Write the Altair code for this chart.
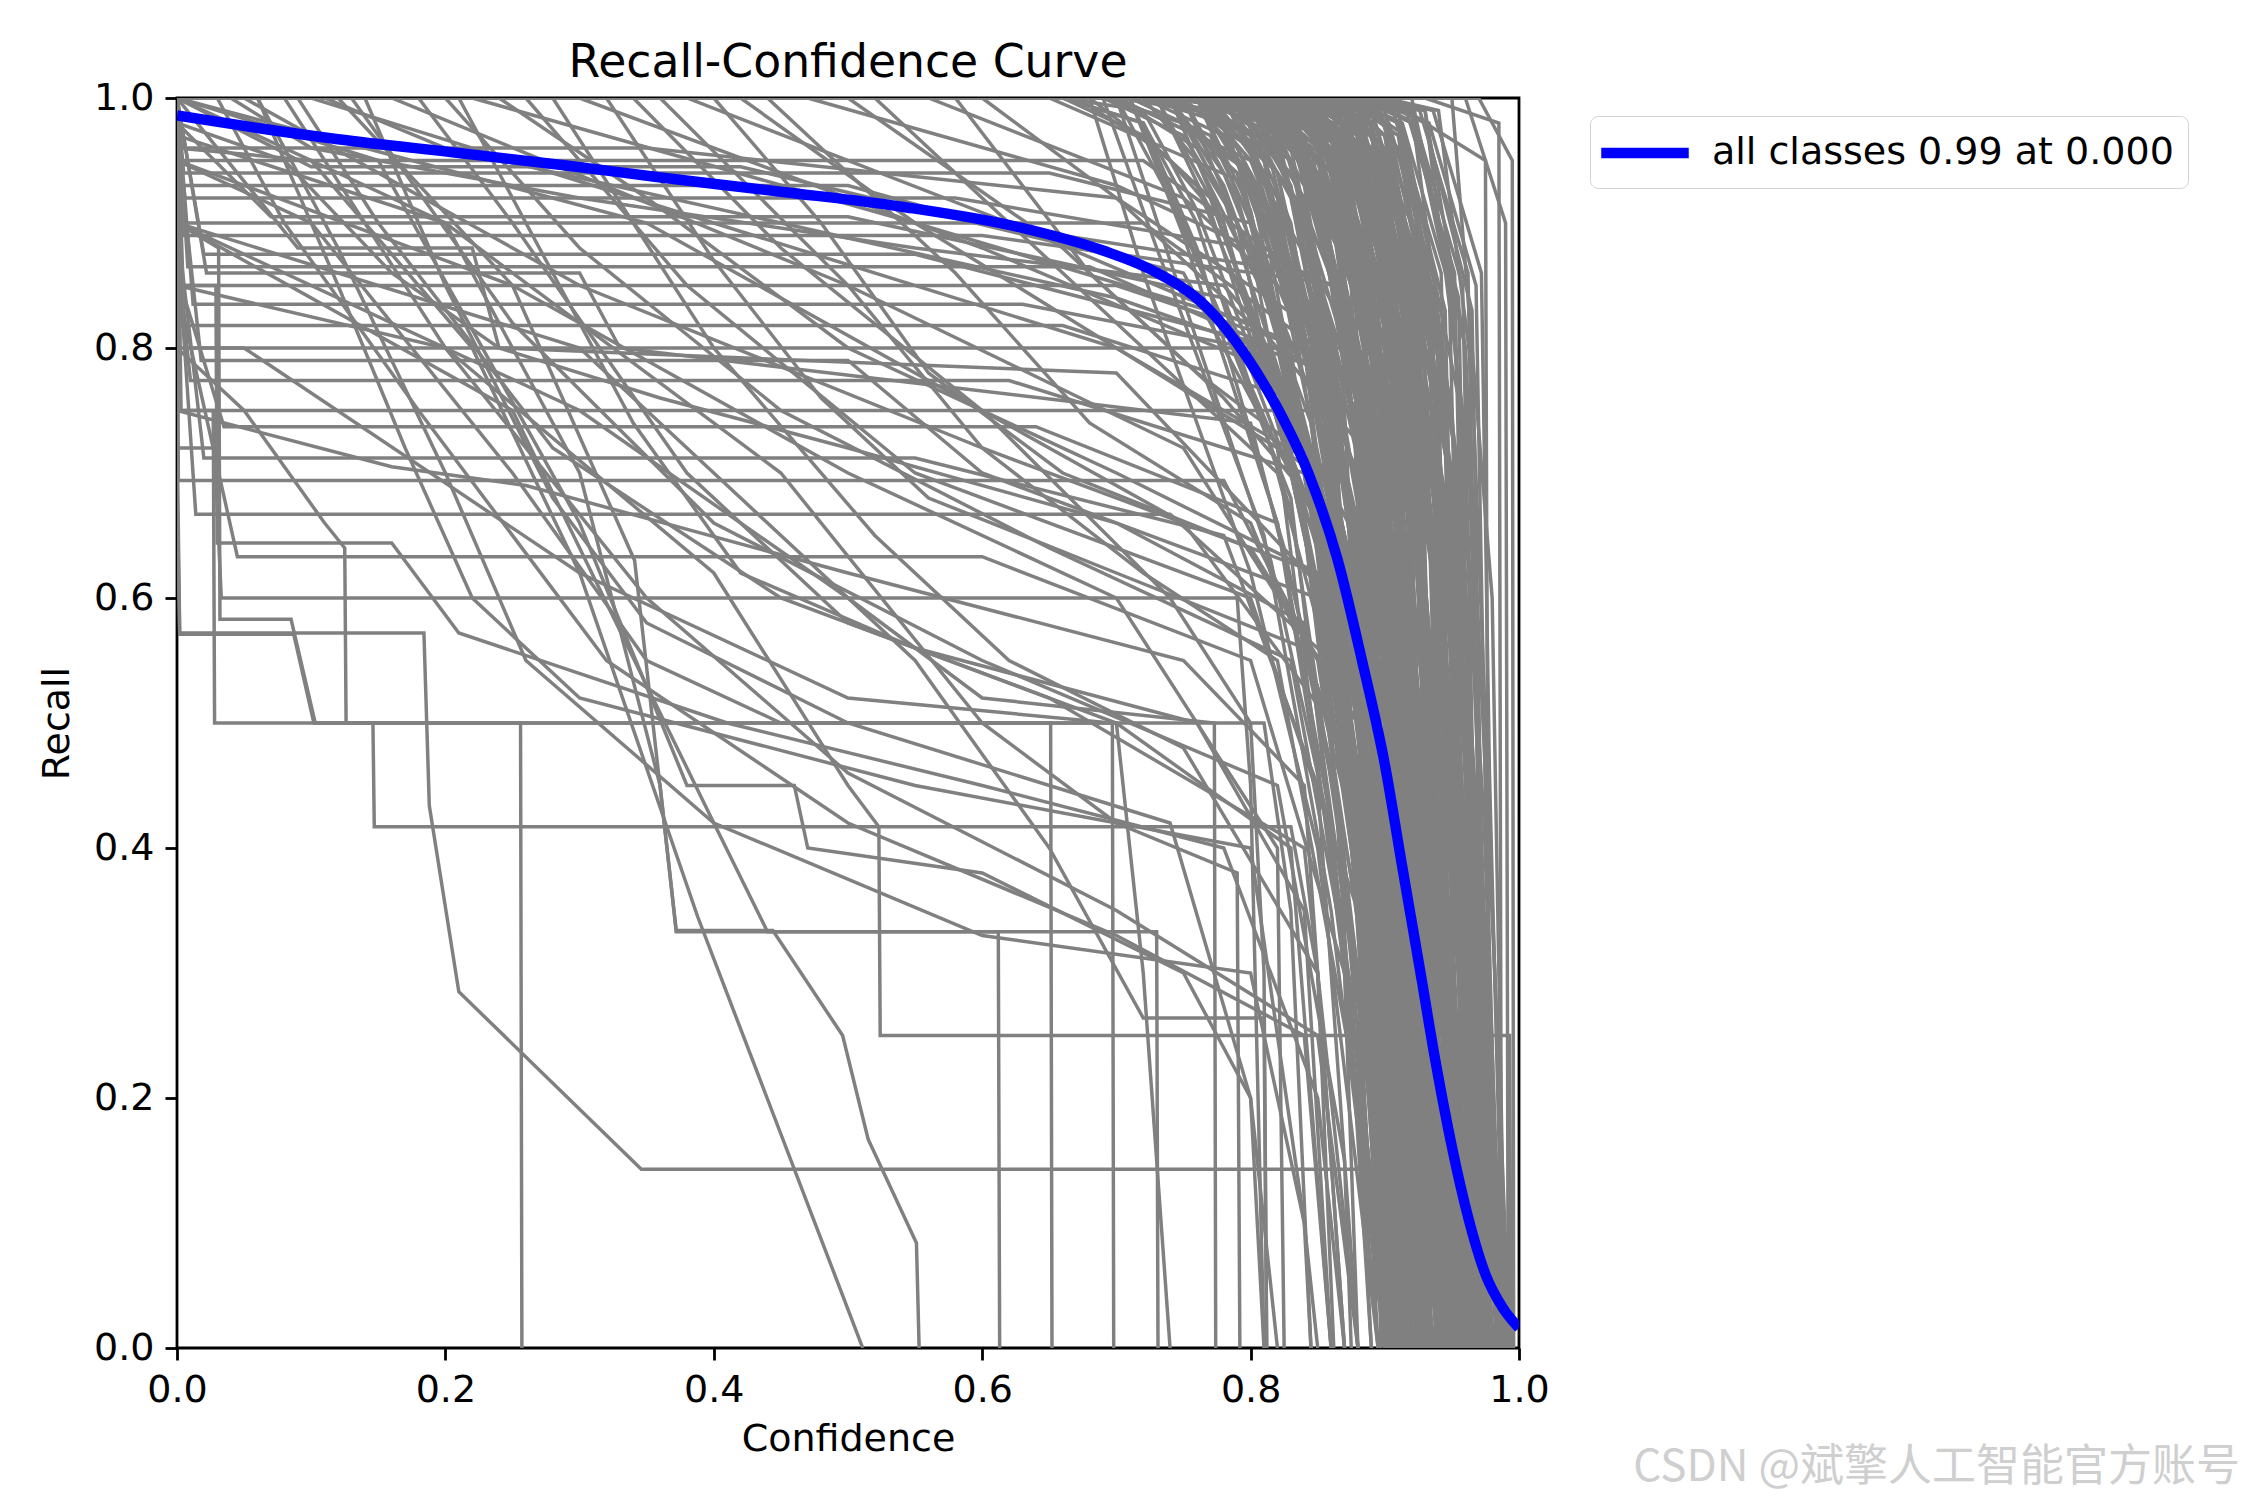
import altair as alt
import pandas as pd

FONT = "DejaVu Sans"
TITLE = "Recall-Confidence Curve"
LEGEND_LABEL = "all classes 0.99 at 0.000"
WATERMARK = "CSDN @斌擎人工智能官方账号"
TICKS = [0.0, 0.2, 0.4, 0.6, 0.8, 1.0]

# ---- mean curve over all classes (blue) ----
all_conf = [0.0, 0.06, 0.12, 0.21, 0.29, 0.356, 0.45, 0.54, 0.63, 0.69, 0.727, 0.767, 0.797,
            0.821, 0.843, 0.865, 0.883, 0.9, 0.913, 0.926, 0.938, 0.95, 0.962, 0.975, 0.988, 1.0]
all_recall = [0.986, 0.976, 0.967, 0.956, 0.946, 0.937, 0.925, 0.913, 0.896, 0.878, 0.862, 0.833, 0.793,
              0.75, 0.70, 0.63, 0.55, 0.467, 0.385, 0.304, 0.228, 0.161, 0.105, 0.059, 0.032, 0.016]

# ---- per-class curves (grey), points are (confidence, recall) ----
low_left_classes = [
    [(0, 0.74), (0.002, 0.572), (0.184, 0.572), (0.188, 0.434), (0.21, 0.285), (0.346, 0.143), (0.895, 0.143), (0.897, 0)],
    [(0, 0.69), (0.002, 0.571), (0.087, 0.571), (0.102, 0.5), (0.256, 0.5), (0.257, 0)],
    [(0, 0.75), (0.027, 0.75), (0.028, 0.5), (0.146, 0.5), (0.147, 0.417), (0.83, 0.417), (0.85, 0.3), (0.862, 0)],
    [(0, 0.9), (0.031, 0.88), (0.032, 0.583), (0.085, 0.583), (0.103, 0.5), (0.81, 0.5), (0.83, 0.35), (0.845, 0)],
    [(0, 1.0), (0.12, 1.0), (0.25, 0.85), (0.341, 0.63), (0.372, 0.334), (0.444, 0.334), (0.496, 0.25), (0.515, 0.167), (0.551, 0.084), (0.553, 0)],
    [(0, 0.96), (0.1, 0.95), (0.22, 0.8), (0.3, 0.62), (0.388, 0.345), (0.511, 0)],
    [(0, 0.85), (0.2, 0.8), (0.4, 0.62), (0.5, 0.45), (0.523, 0.417), (0.524, 0.25), (0.993, 0.25), (0.994, 0)],
    [(0, 0.97), (0.2, 0.9), (0.3, 0.7), (0.36, 0.45), (0.372, 0.333), (0.612, 0.333), (0.613, 0)],
    [(0, 0.9), (0.25, 0.75), (0.40, 0.42), (0.44, 0.333), (0.73, 0.333), (0.731, 0)],
    [(0, 0.72), (0.028, 0.72), (0.033, 0.6), (0.79, 0.6), (0.80, 0.45), (0.81, 0)],
    [(0, 0.95), (0.1, 0.9), (0.25, 0.7), (0.35, 0.55), (0.45, 0.5), (0.651, 0.5), (0.652, 0)],
    [(0, 0.8), (0.05, 0.8), (0.3, 0.62), (0.5, 0.52), (0.697, 0.5), (0.698, 0)],
    [(0, 0.75), (0.16, 0.705), (0.26, 0.69), (0.5, 0.62), (0.75, 0.55), (0.84, 0.45), (0.87, 0)],
    [(0, 0.85), (0.029, 0.85), (0.03, 0.644), (0.16, 0.644), (0.21, 0.572), (0.41, 0.5), (0.6, 0.45), (0.78, 0.4), (0.85, 0.2), (0.87, 0)],
    [(0, 0.8), (0.05, 0.75), (0.11, 0.66), (0.125, 0.64), (0.126, 0.5), (0.7, 0.5), (0.72, 0.3), (0.74, 0)],
    [(0, 1.0), (0.15, 0.95), (0.3, 0.66), (0.38, 0.45), (0.46, 0.45), (0.47, 0.4), (0.6, 0.38), (0.75, 0.3), (0.8, 0.2), (0.82, 0)],
    [(0, 0.9), (0.3, 0.8), (0.55, 0.55), (0.65, 0.4), (0.72, 0.264), (0.81, 0.264), (0.812, 0)],
    [(0, 0.9), (0.3, 0.75), (0.5, 0.6), (0.6, 0.52), (0.773, 0.5), (0.774, 0)],
    [(0, 1.0), (0.2, 0.9), (0.45, 0.7), (0.6, 0.5), (0.7, 0.42), (0.79, 0.38), (0.792, 0)],
    [(0, 1.0), (0.35, 0.9), (0.6, 0.75), (0.74, 0.6), (0.8, 0.5), (0.81, 0.3), (0.812, 0)],
    [(0, 0.95), (0.25, 0.85), (0.5, 0.7), (0.7, 0.6), (0.82, 0.4), (0.825, 0)],
]

plateau_classes = [
    [(0, 1), (0.003, 0.95), (0.72, 0.95), (0.85, 0.85), (0.9, 0.5), (0.93, 0)],
    [(0, 1), (0.005, 0.94), (0.65, 0.94), (0.8, 0.9), (0.88, 0.7), (0.91, 0.3), (0.925, 0)],
    [(0, 1), (0.004, 0.93), (0.5, 0.93), (0.6, 0.9), (0.84, 0.86), (0.9, 0.6), (0.94, 0)],
    [(0, 0.97), (0.006, 0.92), (0.58, 0.92), (0.8, 0.88), (0.89, 0.55), (0.915, 0)],
    [(0, 1), (0.004, 0.9), (0.72, 0.9), (0.85, 0.8), (0.9, 0.4), (0.92, 0)],
    [(0, 0.95), (0.005, 0.89), (0.6, 0.89), (0.87, 0.85), (0.93, 0.4), (0.955, 0)],
    [(0, 1), (0.02, 0.875), (0.55, 0.875), (0.82, 0.8), (0.88, 0.5), (0.905, 0)],
    [(0, 1), (0.008, 0.865), (0.68, 0.865), (0.86, 0.78), (0.92, 0.3), (0.94, 0)],
    [(0, 0.92), (0.003, 0.85), (0.7, 0.85), (0.84, 0.8), (0.9, 0.45), (0.93, 0)],
    [(0, 1), (0.012, 0.835), (0.63, 0.835), (0.8, 0.8), (0.87, 0.6), (0.9, 0)],
    [(0, 0.9), (0.002, 0.818), (0.66, 0.818), (0.83, 0.76), (0.88, 0.45), (0.9, 0)],
    [(0, 1), (0.006, 0.8), (0.88, 0.8), (0.92, 0.5), (0.945, 0)],
    [(0, 0.88), (0.01, 0.774), (0.62, 0.774), (0.84, 0.7), (0.9, 0.35), (0.92, 0)],
    [(0, 1), (0.003, 0.75), (0.85, 0.75), (0.9, 0.5), (0.93, 0)],
    [(0, 0.86), (0.035, 0.737), (0.64, 0.737), (0.82, 0.66), (0.88, 0.3), (0.895, 0)],
    [(0, 0.9), (0.02, 0.712), (0.55, 0.712), (0.78, 0.65), (0.85, 0.45), (0.88, 0)],
    [(0, 1), (0.001, 0.694), (0.78, 0.694), (0.85, 0.55), (0.9, 0.2), (0.91, 0)],
    [(0, 0.89), (0.014, 0.667), (0.74, 0.667), (0.86, 0.55), (0.9, 0.25), (0.92, 0)],
    [(0, 0.85), (0.045, 0.633), (0.6, 0.633), (0.8, 0.55), (0.87, 0.3), (0.88, 0)],
    [(0, 1), (0.006, 0.96), (0.35, 0.96), (0.7, 0.92), (0.87, 0.8), (0.93, 0.3), (0.96, 0)],
    [(0, 0.98), (0.07, 0.905), (0.5, 0.905), (0.78, 0.84), (0.9, 0.5), (0.95, 0)],
    [(0, 1), (0.1, 0.945), (0.42, 0.945), (0.75, 0.86), (0.88, 0.6), (0.93, 0.1), (0.94, 0)],
    [(0, 1), (0.022, 0.86), (0.3, 0.86), (0.33, 0.8), (0.8, 0.74), (0.88, 0.4), (0.9, 0)],
    [(0, 0.97), (0.018, 0.79), (0.5, 0.79), (0.6, 0.7), (0.85, 0.6), (0.9, 0.2), (0.91, 0)],
    [(0, 1), (0.09, 0.88), (0.22, 0.88), (0.24, 0.8), (0.7, 0.78), (0.86, 0.6), (0.9, 0.1), (0.905, 0)],
]

sloped_classes = [
    [(0, 1), (0.05, 1), (0.3, 0.85), (0.6, 0.72), (0.85, 0.62), (0.9, 0.3), (0.92, 0)],
    [(0, 1), (0.08, 1), (0.2, 0.8), (0.35, 0.6), (0.5, 0.46), (0.7, 0.35), (0.85, 0.25), (0.88, 0)],
    [(0, 1), (0.1, 1), (0.4, 0.9), (0.7, 0.8), (0.86, 0.7), (0.92, 0.3), (0.94, 0)],
    [(0, 1), (0.13, 1), (0.25, 0.82), (0.4, 0.66), (0.6, 0.55), (0.82, 0.45), (0.87, 0.15), (0.875, 0)],
    [(0, 1), (0.16, 1), (0.5, 0.85), (0.75, 0.72), (0.88, 0.5), (0.91, 0)],
    [(0, 1), (0.2, 1), (0.3, 0.88), (0.45, 0.75), (0.65, 0.64), (0.83, 0.55), (0.89, 0.2), (0.9, 0)],
    [(0, 1), (0.22, 1), (0.55, 0.9), (0.8, 0.82), (0.9, 0.6), (0.95, 0)],
    [(0, 1), (0.26, 1), (0.38, 0.85), (0.55, 0.7), (0.8, 0.6), (0.88, 0.35), (0.9, 0)],
    [(0, 1), (0.3, 1), (0.6, 0.88), (0.82, 0.78), (0.9, 0.5), (0.93, 0)],
    [(0, 1), (0.34, 1), (0.45, 0.88), (0.6, 0.75), (0.75, 0.66), (0.86, 0.5), (0.89, 0)],
    [(0, 1), (0.38, 1), (0.62, 0.9), (0.84, 0.8), (0.92, 0.4), (0.95, 0)],
    [(0, 1), (0.42, 1), (0.55, 0.9), (0.7, 0.8), (0.85, 0.7), (0.9, 0.3), (0.91, 0)],
    [(0, 1), (0.47, 1), (0.7, 0.93), (0.86, 0.85), (0.93, 0.5), (0.96, 0)],
    [(0, 1), (0.52, 1), (0.62, 0.9), (0.72, 0.8), (0.82, 0.7), (0.87, 0.5), (0.9, 0)],
    [(0, 1), (0.56, 1), (0.75, 0.92), (0.87, 0.8), (0.93, 0.3), (0.95, 0)],
    [(0, 1), (0.6, 1), (0.7, 0.92), (0.8, 0.82), (0.88, 0.6), (0.92, 0)],
    [(0, 1), (0.65, 1), (0.8, 0.93), (0.9, 0.7), (0.95, 0)],
    [(0, 1), (0.7, 1), (0.8, 0.95), (0.88, 0.8), (0.93, 0.3), (0.95, 0)],
    [(0, 1), (0.03, 1), (0.08, 0.9), (0.18, 0.75), (0.32, 0.55), (0.5, 0.42), (0.7, 0.33), (0.84, 0.25), (0.86, 0)],
    [(0, 1), (0.06, 1), (0.12, 0.88), (0.2, 0.7), (0.26, 0.55), (0.4, 0.42), (0.6, 0.33), (0.8, 0.3), (0.84, 0.1), (0.85, 0)],
    [(0, 1), (0.09, 1), (0.15, 0.9), (0.28, 0.72), (0.45, 0.6), (0.7, 0.5), (0.83, 0.4), (0.86, 0)],
    [(0, 1), (0.18, 1), (0.25, 0.9), (0.38, 0.7), (0.5, 0.58), (0.65, 0.52), (0.84, 0.4), (0.88, 0)],
    [(0, 1), (0.24, 1), (0.35, 0.92), (0.5, 0.8), (0.7, 0.7), (0.85, 0.62), (0.91, 0.2), (0.92, 0)],
    [(0, 1), (0.28, 1), (0.4, 0.8), (0.52, 0.65), (0.62, 0.55), (0.75, 0.48), (0.85, 0.3), (0.87, 0)],
    [(0, 1), (0.36, 1), (0.5, 0.85), (0.6, 0.72), (0.72, 0.62), (0.82, 0.55), (0.88, 0.2), (0.89, 0)],
    [(0, 1), (0.44, 1), (0.58, 0.86), (0.68, 0.74), (0.8, 0.66), (0.88, 0.45), (0.9, 0)],
    [(0, 1), (0.5, 1), (0.66, 0.88), (0.76, 0.78), (0.86, 0.7), (0.91, 0.4), (0.93, 0)],
    [(0, 1), (0.58, 1), (0.68, 0.86), (0.78, 0.76), (0.86, 0.66), (0.9, 0.4), (0.92, 0)],
    [(0, 1), (0.04, 1), (0.1, 0.96), (0.3, 0.92), (0.55, 0.88), (0.78, 0.85), (0.9, 0.7), (0.95, 0.2), (0.97, 0)],
    [(0, 1), (0.11, 1), (0.2, 0.96), (0.45, 0.9), (0.7, 0.84), (0.86, 0.78), (0.92, 0.5), (0.96, 0)],
    [(0, 1), (0.06, 1), (0.12, 0.85), (0.17, 0.72), (0.22, 0.6), (0.3, 0.52), (0.55, 0.45), (0.8, 0.4), (0.84, 0.1), (0.845, 0)],
    [(0, 1), (0.14, 1), (0.2, 0.85), (0.28, 0.68), (0.35, 0.58), (0.5, 0.5), (0.74, 0.42), (0.8, 0.2), (0.81, 0)],
    [(0, 1), (0.21, 1), (0.28, 0.86), (0.34, 0.74), (0.42, 0.62), (0.55, 0.56), (0.76, 0.5), (0.84, 0.35), (0.86, 0)],
    [(0, 1), (0.32, 1), (0.4, 0.87), (0.48, 0.76), (0.56, 0.68), (0.7, 0.62), (0.84, 0.56), (0.89, 0.3), (0.9, 0)],
    [(0, 1), (0.4, 1), (0.48, 0.9), (0.56, 0.78), (0.66, 0.7), (0.8, 0.64), (0.88, 0.5), (0.91, 0)],
    [(0, 0.98), (0.08, 0.95), (0.16, 0.86), (0.24, 0.8), (0.36, 0.76), (0.5, 0.72), (0.7, 0.66), (0.84, 0.58), (0.89, 0.2), (0.9, 0)],
]

# dense band near the right: (r0, c1, r1, c2, r2, c3, r3, c4)
band_classes_a = [
    (1.0, 0.78, 0.98, 0.84, 0.8, 0.89, 0.35, 0.905),
    (1.0, 0.80, 0.97, 0.86, 0.75, 0.9, 0.3, 0.915),
    (0.98, 0.79, 0.95, 0.85, 0.7, 0.895, 0.2, 0.91),
    (1.0, 0.82, 0.98, 0.87, 0.8, 0.92, 0.3, 0.935),
    (1.0, 0.81, 0.99, 0.88, 0.85, 0.93, 0.35, 0.95),
    (0.97, 0.76, 0.93, 0.84, 0.72, 0.9, 0.25, 0.92),
    (1.0, 0.83, 0.98, 0.88, 0.78, 0.925, 0.25, 0.94),
    (1.0, 0.84, 0.99, 0.89, 0.82, 0.935, 0.3, 0.955),
    (0.99, 0.8, 0.96, 0.87, 0.7, 0.91, 0.2, 0.925),
    (1.0, 0.85, 0.99, 0.9, 0.8, 0.94, 0.35, 0.96),
    (1.0, 0.86, 0.98, 0.91, 0.75, 0.95, 0.25, 0.965),
    (0.96, 0.77, 0.92, 0.85, 0.68, 0.9, 0.22, 0.915),
    (1.0, 0.87, 0.99, 0.915, 0.8, 0.955, 0.3, 0.97),
    (1.0, 0.82, 0.96, 0.89, 0.72, 0.935, 0.18, 0.945),
    (0.99, 0.84, 0.97, 0.9, 0.7, 0.94, 0.2, 0.95),
    (1.0, 0.86, 0.99, 0.92, 0.82, 0.96, 0.4, 0.975),
    (1.0, 0.88, 0.99, 0.925, 0.78, 0.96, 0.25, 0.975),
    (0.98, 0.79, 0.94, 0.86, 0.65, 0.91, 0.15, 0.92),
    (1.0, 0.83, 0.97, 0.9, 0.7, 0.94, 0.15, 0.95),
    (1.0, 0.85, 0.98, 0.91, 0.72, 0.95, 0.2, 0.96),
    (0.97, 0.8, 0.94, 0.88, 0.66, 0.925, 0.12, 0.935),
    (1.0, 0.87, 0.97, 0.93, 0.7, 0.965, 0.2, 0.98),
    (1.0, 0.89, 0.99, 0.93, 0.85, 0.97, 0.35, 0.985),
    (1.0, 0.81, 0.95, 0.88, 0.6, 0.92, 0.1, 0.93),
    (0.99, 0.84, 0.96, 0.905, 0.65, 0.945, 0.12, 0.955),
    (1.0, 0.86, 0.97, 0.92, 0.68, 0.955, 0.15, 0.965),
    (1.0, 0.9, 0.99, 0.94, 0.8, 0.975, 0.3, 0.988),
    (0.98, 0.82, 0.94, 0.89, 0.58, 0.93, 0.1, 0.94),
    (1.0, 0.85, 0.96, 0.915, 0.6, 0.95, 0.1, 0.96),
    (1.0, 0.88, 0.98, 0.935, 0.7, 0.97, 0.18, 0.98),
    (0.95, 0.78, 0.9, 0.86, 0.6, 0.905, 0.12, 0.915),
    (1.0, 0.8, 0.93, 0.875, 0.55, 0.915, 0.08, 0.925),
    (1.0, 0.83, 0.95, 0.895, 0.6, 0.935, 0.1, 0.945),
    (0.99, 0.87, 0.96, 0.925, 0.62, 0.96, 0.1, 0.97),
    (1.0, 0.89, 0.97, 0.945, 0.66, 0.975, 0.12, 0.985),
    (1.0, 0.91, 0.99, 0.95, 0.75, 0.98, 0.2, 0.99),
    (0.97, 0.79, 0.9, 0.87, 0.5, 0.905, 0.06, 0.912),
    (1.0, 0.82, 0.92, 0.885, 0.52, 0.925, 0.06, 0.932),
    (1.0, 0.84, 0.93, 0.9, 0.55, 0.94, 0.08, 0.948),
    (0.98, 0.86, 0.95, 0.92, 0.58, 0.955, 0.08, 0.963),
    (1.0, 0.88, 0.96, 0.94, 0.6, 0.97, 0.1, 0.978),
    (1.0, 0.9, 0.97, 0.95, 0.65, 0.978, 0.12, 0.986),
    (0.96, 0.8, 0.88, 0.88, 0.45, 0.91, 0.05, 0.918),
    (1.0, 0.83, 0.9, 0.895, 0.48, 0.93, 0.05, 0.938),
    (1.0, 0.85, 0.92, 0.91, 0.5, 0.945, 0.05, 0.952),
    (0.99, 0.87, 0.94, 0.93, 0.52, 0.96, 0.06, 0.968),
    (1.0, 0.89, 0.95, 0.945, 0.55, 0.972, 0.07, 0.98),
    (1.0, 0.92, 0.99, 0.955, 0.7, 0.98, 0.15, 0.99),
    (1.0, 0.93, 0.99, 0.96, 0.8, 0.982, 0.3, 0.992),
    (0.97, 0.81, 0.88, 0.89, 0.4, 0.92, 0.04, 0.926),
    (1.0, 0.84, 0.9, 0.905, 0.42, 0.94, 0.04, 0.946),
    (1.0, 0.86, 0.91, 0.92, 0.45, 0.952, 0.05, 0.958),
    (1.0, 0.88, 0.93, 0.935, 0.48, 0.965, 0.05, 0.972),
    (0.98, 0.9, 0.95, 0.95, 0.5, 0.975, 0.06, 0.982),
    (1.0, 0.79, 0.96, 0.85, 0.82, 0.895, 0.4, 0.91),
    (1.0, 0.81, 0.97, 0.87, 0.84, 0.91, 0.45, 0.93),
    (1.0, 0.83, 0.98, 0.885, 0.86, 0.92, 0.5, 0.945),
    (1.0, 0.85, 0.99, 0.9, 0.88, 0.935, 0.5, 0.96),
    (1.0, 0.87, 0.99, 0.91, 0.9, 0.95, 0.5, 0.975),
    (1.0, 0.76, 0.95, 0.83, 0.8, 0.88, 0.4, 0.9),
]

band_classes_b = [
    (1.0, 0.84, 0.95, 0.9, 0.7, 0.93, 0.3, 0.95),
    (1.0, 0.86, 0.96, 0.91, 0.72, 0.94, 0.3, 0.955),
    (1.0, 0.87, 0.97, 0.915, 0.75, 0.945, 0.35, 0.962),
    (1.0, 0.88, 0.97, 0.92, 0.76, 0.95, 0.32, 0.966),
    (1.0, 0.89, 0.98, 0.93, 0.78, 0.958, 0.35, 0.972),
    (1.0, 0.9, 0.98, 0.935, 0.8, 0.962, 0.38, 0.977),
    (1.0, 0.91, 0.99, 0.94, 0.82, 0.968, 0.4, 0.983),
    (1.0, 0.92, 0.99, 0.95, 0.84, 0.974, 0.42, 0.988),
    (1.0, 0.85, 0.94, 0.895, 0.65, 0.925, 0.2, 0.94),
    (1.0, 0.83, 0.93, 0.885, 0.62, 0.915, 0.18, 0.93),
    (1.0, 0.82, 0.92, 0.875, 0.6, 0.905, 0.15, 0.92),
    (1.0, 0.8, 0.9, 0.865, 0.6, 0.898, 0.12, 0.908),
    (1.0, 0.86, 0.93, 0.905, 0.6, 0.935, 0.15, 0.948),
    (1.0, 0.87, 0.94, 0.915, 0.62, 0.944, 0.16, 0.956),
    (1.0, 0.88, 0.95, 0.925, 0.64, 0.952, 0.18, 0.964),
    (1.0, 0.89, 0.96, 0.935, 0.66, 0.96, 0.2, 0.971),
    (1.0, 0.9, 0.96, 0.942, 0.68, 0.967, 0.22, 0.978),
    (1.0, 0.91, 0.97, 0.95, 0.7, 0.973, 0.24, 0.984),
    (0.99, 0.84, 0.92, 0.9, 0.55, 0.928, 0.1, 0.936),
    (0.99, 0.85, 0.93, 0.91, 0.57, 0.937, 0.1, 0.944),
    (0.99, 0.86, 0.94, 0.92, 0.59, 0.946, 0.11, 0.952),
    (0.99, 0.87, 0.95, 0.93, 0.61, 0.955, 0.12, 0.96),
    (0.99, 0.88, 0.96, 0.94, 0.63, 0.963, 0.13, 0.967),
    (0.99, 0.89, 0.97, 0.948, 0.65, 0.97, 0.14, 0.974),
    (1.0, 0.81, 0.9, 0.88, 0.5, 0.905, 0.1, 0.913),
    (1.0, 0.82, 0.91, 0.89, 0.52, 0.912, 0.1, 0.92),
    (1.0, 0.83, 0.92, 0.9, 0.54, 0.92, 0.1, 0.927),
    (1.0, 0.93, 0.99, 0.958, 0.75, 0.978, 0.25, 0.99),
    (1.0, 0.94, 0.99, 0.965, 0.78, 0.982, 0.3, 0.993),
    (1.0, 0.85, 0.97, 0.89, 0.85, 0.92, 0.6, 0.95),
    (1.0, 0.86, 0.98, 0.9, 0.86, 0.93, 0.62, 0.96),
    (1.0, 0.87, 0.98, 0.91, 0.88, 0.94, 0.65, 0.97),
    (1.0, 0.88, 0.99, 0.92, 0.9, 0.95, 0.68, 0.98),
    (1.0, 0.84, 0.96, 0.88, 0.84, 0.91, 0.58, 0.94),
    (0.98, 0.83, 0.94, 0.88, 0.8, 0.91, 0.5, 0.935),
    (0.98, 0.85, 0.95, 0.895, 0.8, 0.925, 0.5, 0.95),
    (0.98, 0.87, 0.96, 0.91, 0.8, 0.94, 0.5, 0.965),
    (0.98, 0.89, 0.97, 0.925, 0.8, 0.955, 0.5, 0.978),
    (1.0, 0.8, 0.95, 0.86, 0.78, 0.9, 0.45, 0.925),
    (1.0, 0.78, 0.94, 0.85, 0.75, 0.89, 0.4, 0.915),
    (1.0, 0.9, 0.97, 0.945, 0.72, 0.972, 0.28, 0.985),
    (1.0, 0.91, 0.98, 0.95, 0.74, 0.976, 0.3, 0.989),
    (0.97, 0.82, 0.9, 0.89, 0.45, 0.915, 0.06, 0.922),
    (0.97, 0.84, 0.91, 0.9, 0.47, 0.928, 0.06, 0.934),
    (0.97, 0.86, 0.92, 0.915, 0.5, 0.94, 0.07, 0.946),
]

band_classes_c = [
    (1.0, 0.80, 0.96, 0.86, 0.72, 0.885, 0.25, 0.900),
    (1.0, 0.81, 0.95, 0.865, 0.7, 0.888, 0.22, 0.903),
    (1.0, 0.82, 0.97, 0.87, 0.75, 0.892, 0.28, 0.906),
    (0.99, 0.815, 0.95, 0.872, 0.68, 0.894, 0.2, 0.909),
    (1.0, 0.83, 0.96, 0.878, 0.72, 0.897, 0.24, 0.912),
    (1.0, 0.82, 0.94, 0.88, 0.66, 0.9, 0.2, 0.915),
    (1.0, 0.84, 0.97, 0.884, 0.74, 0.903, 0.26, 0.918),
    (0.98, 0.83, 0.95, 0.886, 0.7, 0.906, 0.22, 0.921),
    (1.0, 0.845, 0.96, 0.89, 0.72, 0.91, 0.25, 0.924),
    (1.0, 0.85, 0.97, 0.893, 0.76, 0.912, 0.28, 0.927),
    (1.0, 0.84, 0.95, 0.895, 0.68, 0.915, 0.2, 0.930),
    (1.0, 0.855, 0.97, 0.9, 0.74, 0.918, 0.26, 0.933),
    (0.99, 0.85, 0.95, 0.902, 0.7, 0.921, 0.22, 0.936),
    (1.0, 0.86, 0.96, 0.905, 0.72, 0.924, 0.25, 0.939),
    (1.0, 0.865, 0.97, 0.908, 0.76, 0.927, 0.28, 0.942),
    (1.0, 0.86, 0.95, 0.91, 0.68, 0.93, 0.2, 0.945),
    (1.0, 0.87, 0.97, 0.914, 0.74, 0.933, 0.26, 0.948),
    (0.98, 0.865, 0.95, 0.916, 0.7, 0.936, 0.22, 0.951),
    (1.0, 0.875, 0.96, 0.92, 0.72, 0.939, 0.25, 0.954),
    (1.0, 0.88, 0.97, 0.923, 0.76, 0.942, 0.28, 0.957),
    (1.0, 0.875, 0.95, 0.925, 0.68, 0.945, 0.2, 0.960),
    (1.0, 0.885, 0.97, 0.93, 0.74, 0.948, 0.26, 0.963),
    (0.99, 0.88, 0.95, 0.932, 0.7, 0.951, 0.22, 0.966),
    (1.0, 0.89, 0.96, 0.935, 0.72, 0.954, 0.25, 0.969),
    (1.0, 0.895, 0.97, 0.938, 0.76, 0.957, 0.28, 0.972),
    (1.0, 0.89, 0.95, 0.94, 0.68, 0.96, 0.2, 0.975),
    (1.0, 0.9, 0.97, 0.945, 0.74, 0.963, 0.26, 0.978),
    (0.98, 0.9, 0.95, 0.948, 0.7, 0.966, 0.22, 0.981),
    (1.0, 0.91, 0.96, 0.952, 0.72, 0.969, 0.25, 0.984),
    (1.0, 0.915, 0.97, 0.955, 0.76, 0.972, 0.28, 0.987),
]

band_classes_d = [
    (1.0, 0.83, 0.98, 0.875, 0.85, 0.89, 0.45, 0.901),
    (1.0, 0.835, 0.98, 0.878, 0.84, 0.893, 0.42, 0.905),
    (1.0, 0.84, 0.99, 0.882, 0.86, 0.897, 0.45, 0.908),
    (1.0, 0.845, 0.98, 0.885, 0.83, 0.9, 0.4, 0.911),
    (1.0, 0.85, 0.98, 0.888, 0.85, 0.903, 0.44, 0.914),
    (1.0, 0.855, 0.99, 0.892, 0.86, 0.906, 0.46, 0.917),
    (1.0, 0.86, 0.98, 0.895, 0.84, 0.909, 0.42, 0.920),
    (1.0, 0.862, 0.98, 0.898, 0.85, 0.912, 0.44, 0.923),
    (1.0, 0.866, 0.99, 0.902, 0.86, 0.915, 0.46, 0.926),
    (1.0, 0.87, 0.98, 0.905, 0.83, 0.918, 0.4, 0.929),
    (1.0, 0.873, 0.98, 0.908, 0.85, 0.921, 0.44, 0.932),
    (1.0, 0.876, 0.99, 0.912, 0.86, 0.924, 0.46, 0.935),
    (1.0, 0.88, 0.98, 0.915, 0.84, 0.927, 0.42, 0.938),
    (1.0, 0.883, 0.98, 0.918, 0.85, 0.93, 0.44, 0.941),
    (1.0, 0.886, 0.99, 0.922, 0.86, 0.933, 0.46, 0.944),
    (1.0, 0.89, 0.98, 0.925, 0.83, 0.936, 0.4, 0.947),
    (1.0, 0.893, 0.98, 0.928, 0.85, 0.939, 0.44, 0.950),
    (1.0, 0.896, 0.99, 0.932, 0.86, 0.942, 0.46, 0.953),
    (1.0, 0.9, 0.98, 0.935, 0.84, 0.945, 0.42, 0.956),
    (1.0, 0.903, 0.98, 0.938, 0.85, 0.948, 0.44, 0.959),
    (1.0, 0.906, 0.99, 0.942, 0.86, 0.951, 0.46, 0.962),
    (1.0, 0.91, 0.98, 0.945, 0.83, 0.954, 0.4, 0.965),
    (1.0, 0.913, 0.98, 0.948, 0.85, 0.957, 0.44, 0.968),
    (1.0, 0.916, 0.99, 0.952, 0.86, 0.96, 0.46, 0.971),
    (1.0, 0.92, 0.98, 0.955, 0.84, 0.963, 0.42, 0.974),
    (1.0, 0.923, 0.98, 0.958, 0.85, 0.966, 0.44, 0.977),
    (1.0, 0.926, 0.99, 0.962, 0.86, 0.969, 0.46, 0.980),
    (1.0, 0.93, 0.98, 0.965, 0.83, 0.972, 0.4, 0.983),
    (1.0, 0.933, 0.98, 0.968, 0.85, 0.975, 0.44, 0.986),
    (1.0, 0.936, 0.99, 0.972, 0.86, 0.978, 0.46, 0.989),
]

band_classes_e = [
    (1.0, 0.74, 0.92, 0.82, 0.72, 0.87, 0.3, 0.895),
    (1.0, 0.75, 0.9, 0.83, 0.68, 0.875, 0.28, 0.9),
    (0.99, 0.76, 0.91, 0.835, 0.7, 0.88, 0.3, 0.905),
    (1.0, 0.77, 0.92, 0.84, 0.72, 0.885, 0.32, 0.91),
    (1.0, 0.78, 0.93, 0.845, 0.74, 0.89, 0.34, 0.915),
    (1.0, 0.73, 0.88, 0.81, 0.65, 0.86, 0.35, 0.9),
    (1.0, 0.75, 0.89, 0.82, 0.66, 0.865, 0.36, 0.905),
    (0.98, 0.76, 0.9, 0.83, 0.67, 0.87, 0.38, 0.91),
    (1.0, 0.77, 0.91, 0.835, 0.69, 0.875, 0.4, 0.918),
    (1.0, 0.78, 0.92, 0.845, 0.7, 0.88, 0.42, 0.922),
    (1.0, 0.72, 0.86, 0.8, 0.62, 0.85, 0.4, 0.895),
    (1.0, 0.74, 0.87, 0.815, 0.63, 0.858, 0.42, 0.9),
    (0.98, 0.76, 0.88, 0.825, 0.64, 0.865, 0.44, 0.907),
    (1.0, 0.78, 0.9, 0.84, 0.66, 0.872, 0.46, 0.913),
    (1.0, 0.79, 0.92, 0.85, 0.7, 0.878, 0.48, 0.92),
    (1.0, 0.8, 0.93, 0.855, 0.74, 0.884, 0.5, 0.926),
    (1.0, 0.81, 0.94, 0.86, 0.76, 0.89, 0.52, 0.932),
    (1.0, 0.79, 0.9, 0.85, 0.6, 0.88, 0.25, 0.9),
    (1.0, 0.8, 0.91, 0.86, 0.62, 0.885, 0.26, 0.906),
    (1.0, 0.81, 0.92, 0.865, 0.64, 0.89, 0.27, 0.912),
]

late_classes = [
    [(0, 1), (0.9, 1), (0.975, 0.95), (0.978, 0)],
    [(0, 1), (0.93, 1), (0.985, 0.98), (0.987, 0)],
    [(0, 1), (0.96, 1), (0.99, 0.9), (0.992, 0)],
    [(0, 1), (0.97, 1), (0.995, 0.95), (0.996, 0)],
    [(0, 1), (0.92, 1), (0.96, 0.8), (0.975, 0.3), (0.985, 0)],
    [(0, 1), (0.95, 1), (0.98, 0.6), (0.99, 0)],
]

# ---- long table ----
rows = []
curves = low_left_classes + plateau_classes + sloped_classes + late_classes
for b in band_classes_a + band_classes_b + band_classes_c + band_classes_d + band_classes_e:
    curves.append([(0, 1.0), (b[1] - 0.1, 1.0), (b[1] - 0.04, b[0]), (b[1], b[2]),
                   (b[3], b[4]), (b[5], b[6]), (b[7], 0)])
for k, pts in enumerate(curves):
    for i, (c, r) in enumerate(pts):
        rows.append({"cls": k, "i": i, "conf": c, "recall": r})
grey_df = pd.DataFrame(rows)

blue_df = pd.DataFrame({"conf": all_conf, "recall": all_recall,
                        "series": [LEGEND_LABEL] * len(all_conf),
                        "i": list(range(len(all_conf)))})

xs = alt.Scale(domain=[0, 1], nice=False, zero=False)
ys = alt.Scale(domain=[0, 1], nice=False, zero=False)

FS = 38
x_axis = alt.Axis(values=TICKS, format=".1f", title="Confidence", grid=False, domain=False,
                  labelFont=FONT, labelFontSize=FS, labelColor="black", labelPadding=11,
                  tickColor="black", tickWidth=2.8, tickSize=12, labelFlush=False,
                  titleFont=FONT, titleFontSize=FS, titleFontWeight="normal", titleColor="black",
                  titlePadding=11)
y_axis = alt.Axis(values=TICKS, format=".1f", title="Recall", grid=False, domain=False,
                  labelFont=FONT, labelFontSize=FS, labelColor="black", labelPadding=11,
                  tickColor="black", tickWidth=2.8, tickSize=12, labelFlush=False,
                  titleFont=FONT, titleFontSize=FS, titleFontWeight="normal", titleColor="black",
                  titlePadding=17)

grey = alt.Chart(grey_df).mark_line(color="#808080", strokeWidth=3.47, clip=True).encode(
    x=alt.X("conf:Q", scale=xs, axis=x_axis),
    y=alt.Y("recall:Q", scale=ys, axis=y_axis),
    detail="cls:N",
    order="i:Q",
)

blue = alt.Chart(blue_df).mark_line(strokeWidth=10.4, interpolate="monotone", clip=True).encode(
    x=alt.X("conf:Q", scale=xs),
    y=alt.Y("recall:Q", scale=ys),
    order="i:Q",
    color=alt.Color("series:N", scale=alt.Scale(domain=[LEGEND_LABEL], range=["#0000ff"]),
                    legend=alt.Legend(title=None, orient="none", legendX=1413, legendY=18,
                                      symbolType="M-2.5,0H2.5", symbolStrokeWidth=10.4, symbolSize=1225,
                                      symbolOffset=18,
                                      labelFont=FONT, labelFontSize=FS, labelColor="black",
                                      labelOffset=44, labelLimit=1000, padding=14,
                                      strokeColor="#d3d3d3", cornerRadius=8,
                                      fillColor="white")),
)

mark_df = pd.DataFrame({"t": [WATERMARK]})
watermark = alt.Chart(mark_df).mark_text(
    align="right", baseline="alphabetic", font="Noto Sans CJK SC", fontSize=44,
    color="#cfcfcf", clip=False
).encode(text="t:N", x=alt.value(2063), y=alt.value(1383))

chart = alt.layer(grey, blue, watermark).properties(
    width=1342, height=1250,
    background="white",
    title=alt.TitleParams(TITLE, font=FONT, fontSize=45.7, fontWeight="normal", color="black",
                          anchor="middle", frame="group", offset=-8),
    autosize=alt.AutoSizeParams(type="none"),
    padding={"left": 169, "top": 90, "right": 720, "bottom": 150},
).configure_view(stroke="black", strokeWidth=2.8)

chart.save("out.html", embed_options={"renderer": "svg", "actions": False})
